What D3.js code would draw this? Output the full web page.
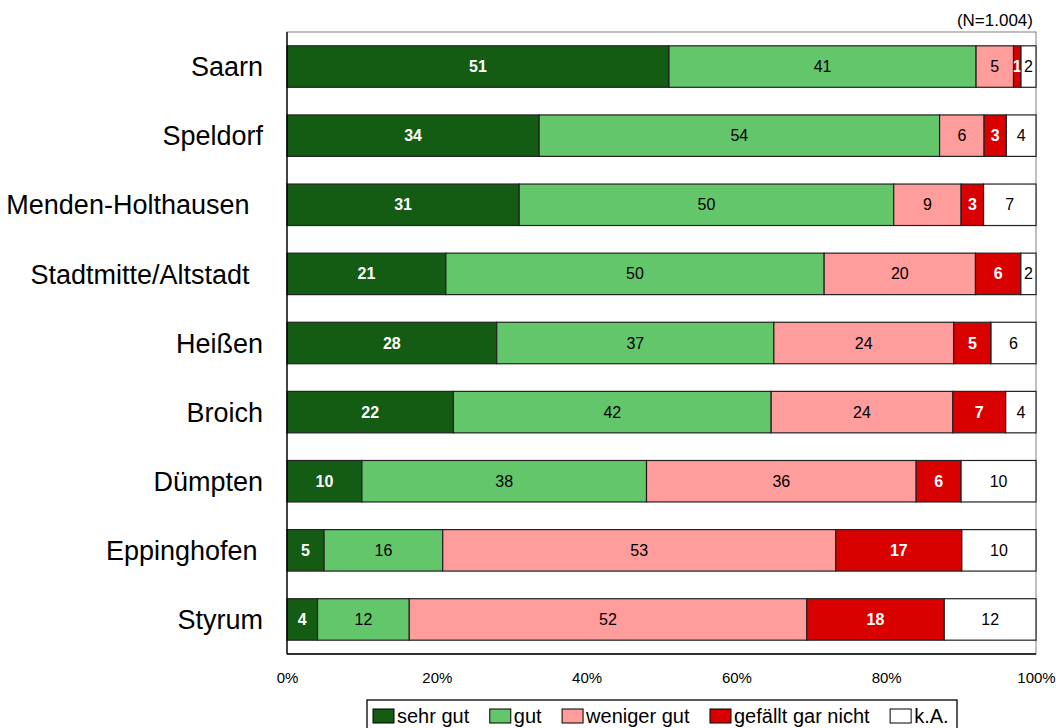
<!DOCTYPE html>
<html>
<head>
<meta charset="utf-8">
<script src="https://cdn.jsdelivr.net/npm/d3@7"></script>
<style>
  html, body { margin: 0; padding: 0; background: #fff; }
  svg { display: block; font-family: "Liberation Sans", Arial, sans-serif; }
  text { white-space: pre; }
</style>
</head>
<body>
<svg id="chart" width="1056" height="728"></svg>
<script>
// Districts (trailing spaces keep the original label indentation)
const districts = [
  "Saarn", "Speldorf", "Menden-Holthausen\u2002", "Stadtmitte/Altstadt\u2002",
  "Heißen", "Broich", "Dümpten", "Eppinghofen\u2009", "Styrum"
];

// Answer categories
const seriesNames = ["sehr gut", "gut", "weniger gut", "gefällt gar nicht", "k.A."];

// Percent shares per district, one array per answer
const sehrGut        = [51, 34, 31, 21, 28, 22, 10,  5,  4];
const gut            = [41, 54, 50, 50, 37, 42, 38, 16, 12];
const wenigerGut     = [ 5,  6,  9, 20, 24, 24, 36, 53, 52];
const gefaelltNicht  = [ 1,  3,  3,  6,  5,  7,  6, 17, 18];
const keineAngabe    = [ 2,  4,  7,  2,  6,  4, 10, 10, 12];

const tickValues = [0, 0.2, 0.4, 0.6, 0.8, 1];
const sampleNote = "(N=1.004)";

const colors = ["#145c14", "#63c66b", "#ff9c9c", "#d90000", "#ffffff"];
const labelColors = ["#ffffff", "#000000", "#000000", "#ffffff", "#000000"];
const labelWeights = ["bold", "normal", "normal", "bold", "normal"];

const seriesValues = [sehrGut, gut, wenigerGut, gefaelltNicht, keineAngabe];
const rows = districts.map((d, i) => {
  const r = { district: d };
  seriesNames.forEach((s, j) => { r[s] = seriesValues[j][i]; });
  return r;
});

const svg = d3.select("#chart");
const plotLeft = 287, plotRight = 1036, plotTop = 32, plotBottom = 654;

const x = d3.scaleLinear().domain([0, 1]).range([plotLeft, plotRight]);
const y = d3.scaleBand().domain(districts).range([plotTop, plotBottom])
  .paddingInner(0.4).paddingOuter(0.2);

// each row is scaled to 100 %
const stack = d3.stack().keys(seriesNames).offset(d3.stackOffsetExpand);
const layers = stack(rows);

// plot frame
svg.append("rect")
  .attr("x", plotLeft).attr("y", plotTop)
  .attr("width", plotRight - plotLeft).attr("height", plotBottom - plotTop)
  .attr("fill", "none").attr("stroke", "#808080").attr("stroke-width", 1);

// stacked bars
const g = svg.append("g");
layers.forEach((layer, j) => {
  const lg = g.append("g");
  lg.selectAll("rect").data(layer).join("rect")
    .attr("x", d => x(d[0]))
    .attr("y", d => y(d.data.district))
    .attr("width", d => x(d[1]) - x(d[0]))
    .attr("height", y.bandwidth())
    .attr("fill", colors[j])
    .attr("stroke", "#222")
    .attr("stroke-width", 1.2);
  lg.selectAll("text").data(layer).join("text")
    .attr("x", d => (x(d[0]) + x(d[1])) / 2)
    .attr("y", d => y(d.data.district) + y.bandwidth() / 2)
    .attr("dy", "0.35em")
    .attr("text-anchor", "middle")
    .attr("font-size", 16)
    .attr("font-weight", labelWeights[j])
    .attr("fill", labelColors[j])
    .text(d => d.data[seriesNames[j]]);
});

// axes lines
svg.append("line").attr("x1", plotLeft).attr("x2", plotLeft).attr("y1", plotTop).attr("y2", plotBottom)
  .attr("stroke", "#000").attr("stroke-width", 1.3);
svg.append("line").attr("x1", plotLeft).attr("x2", plotRight).attr("y1", plotBottom).attr("y2", plotBottom)
  .attr("stroke", "#000").attr("stroke-width", 1.3);

// x axis labels
const xAxis = d3.axisBottom(x).tickValues(tickValues)
  .tickFormat(d3.format(".0%")).tickSize(0).tickPadding(0);
const xg = svg.append("g").attr("transform", `translate(0,${plotBottom})`).call(xAxis);
xg.select(".domain").remove();
xg.selectAll("text")
  .attr("y", 29).attr("dy", 0)
  .attr("font-size", 15).attr("font-family", "Liberation Sans, Arial, sans-serif")
  .attr("fill", "#000");

// district labels
svg.append("g").selectAll("text").data(districts).join("text")
  .attr("x", 263)
  .attr("y", d => y(d) + y.bandwidth() / 2)
  .attr("dy", "0.36em")
  .attr("text-anchor", "end")
  .attr("font-size", 27)
  .attr("fill", "#000")
  .text(d => d);

// sample size note
svg.append("text")
  .attr("x", 1033).attr("y", 26)
  .attr("text-anchor", "end")
  .attr("font-size", 17)
  .attr("fill", "#000")
  .text(sampleNote);

// legend
const legend = svg.append("g");
legend.append("rect")
  .attr("x", 367).attr("y", 700).attr("width", 590).attr("height", 40)
  .attr("fill", "#fff").attr("stroke", "#000").attr("stroke-width", 1.3);
let lx = 373;
seriesNames.forEach((s, j) => {
  legend.append("rect")
    .attr("x", lx).attr("y", 709).attr("width", 21).attr("height", 14)
    .attr("fill", colors[j]).attr("stroke", "#000").attr("stroke-width", 1);
  const t = legend.append("text")
    .attr("x", lx + 24).attr("y", 723)
    .attr("font-size", 20).attr("fill", "#000")
    .text(s);
  lx += 24 + t.node().getComputedTextLength() + 20.5;
});
</script>
</body>
</html>
